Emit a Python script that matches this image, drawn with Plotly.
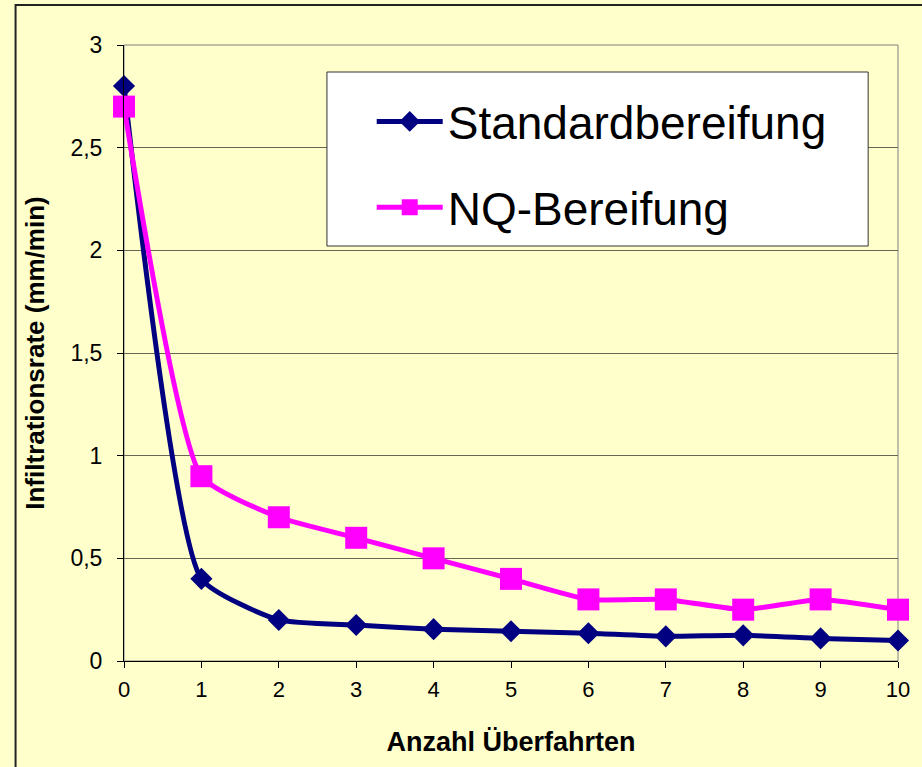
import plotly.graph_objects as go

# Number of passes (Überfahrten)
passes = [0, 1, 2, 3, 4, 5, 6, 7, 8, 9, 10]

# Infiltration rate (mm/min) per tyre setup
standard = [2.8, 0.4, 0.2, 0.175, 0.155, 0.145, 0.135, 0.12, 0.125, 0.11, 0.1]
nq = [2.7, 0.9, 0.7, 0.6, 0.5, 0.4, 0.3, 0.3, 0.25, 0.3, 0.25]

y_tickvals = [0, 0.5, 1, 1.5, 2, 2.5, 3]
y_ticktext = ["0", "0,5", "1", "1,5", "2", "2,5", "3"]
x_tickvals = passes
x_ticktext = [str(p) for p in passes]

FONT = "Liberation Sans, Arial, sans-serif"
BG = "#FFFFCC"

fig = go.Figure()
fig.add_trace(go.Scatter(
    x=passes, y=standard, name="Standardbereifung", legendgroup="std",
    mode="lines+markers",
    line=dict(color="#000080", width=5, shape="spline", smoothing=0.5),
    marker=dict(symbol="diamond", size=17, color="#000080"),
    cliponaxis=False,
))
fig.add_trace(go.Scatter(
    x=passes, y=nq, name="NQ-Bereifung", legendgroup="nq",
    mode="lines+markers",
    line=dict(color="#FF00FF", width=5, shape="spline", smoothing=0.5),
    marker=dict(symbol="square", size=22, color="#FF00FF"),
    cliponaxis=False,
))

W, H = 922, 767
L, R, T, B = 124, 20, 45, 106
pw, ph = W - L - R, H - T - B

def px_x(p):
    return (p - L) / pw

def px_y(p):
    return (H - B - p) / ph

fig.update_layout(
    width=W, height=H,
    margin=dict(l=L, r=R, t=T, b=B),
    paper_bgcolor=BG, plot_bgcolor=BG,
    font=dict(family=FONT, color="black"),
    showlegend=True,
    legend=dict(
        x=px_x(373), y=px_y(85), xanchor="left", yanchor="top",
        bgcolor="rgba(0,0,0,0)", borderwidth=0,
        font=dict(size=46, family=FONT, color="black"),
        traceorder="grouped", tracegroupgap=23, itemwidth=66,
    ),
    xaxis=dict(
        range=[0, 10], tickvals=x_tickvals, ticktext=x_ticktext,
        showline=True, linecolor="black", linewidth=1,
        ticks="outside", ticklen=6, tickcolor="black",
        tickfont=dict(size=22), ticklabelstandoff=3,
        showgrid=False, zeroline=False,
        title=dict(text="<b>Anzahl Überfahrten</b>", font=dict(size=27), standoff=30),
    ),
    yaxis=dict(
        range=[0, 3], tickvals=y_tickvals, ticktext=y_ticktext,
        showline=True, linecolor="black", linewidth=1,
        ticks="outside", ticklen=6, tickcolor="black",
        tickfont=dict(size=23), ticklabelstandoff=10,
        showgrid=True, gridcolor="#666655", gridwidth=1, zeroline=False,
        title=dict(text="<b>Infiltrationsrate (mm/min)</b>", font=dict(size=26), standoff=18),
    ),
    shapes=[
        # plot-area frame
        dict(type="rect", xref="paper", yref="paper", x0=0, x1=1, y0=0, y1=1,
             line=dict(color="#808080", width=1), layer="below"),
        # chart-area frame
        dict(type="rect", xref="paper", yref="paper",
             x0=px_x(15), x1=px_x(940), y0=px_y(790), y1=px_y(5),
             line=dict(color="#222222", width=2), layer="below"),
        # legend box
        dict(type="rect", xref="paper", yref="paper",
             x0=px_x(328), x1=px_x(872), y0=px_y(246), y1=px_y(72),
             fillcolor="white", line=dict(color="#333333", width=1), layer="above"),
    ],
)

fig.write_html("out.html")
